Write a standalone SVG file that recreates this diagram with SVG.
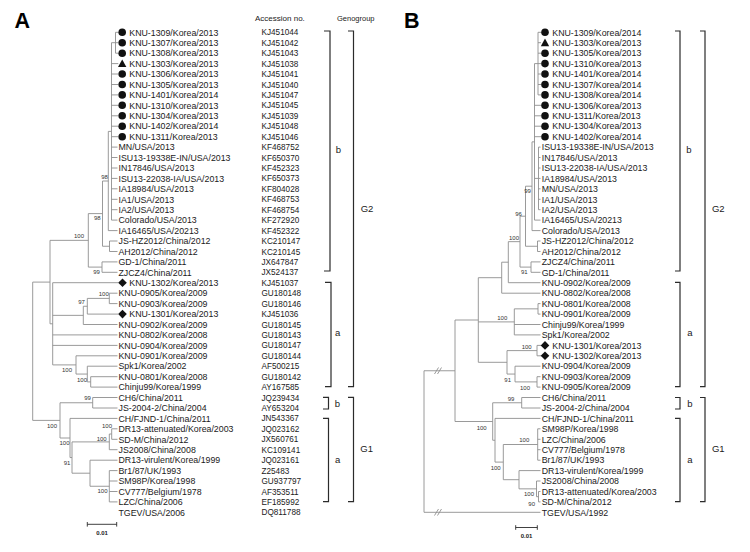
<svg xmlns="http://www.w3.org/2000/svg" xmlns:xlink="http://www.w3.org/1999/xlink" width="750" height="552" viewBox="0 0 750 552">
<defs>
<style>
text{font-family:"Liberation Sans",Arial,sans-serif;fill:#1a1a1a}
.s{font-size:8.8px}
.ac{font-size:8.2px}
.hd{font-size:8px}
.bs{font-size:6px;text-anchor:middle;fill:#333}
.gl{font-size:9.5px;text-anchor:middle}
.pl{font-size:21.5px;font-weight:bold;fill:#000}
.sc{font-size:6px;font-weight:bold;text-anchor:middle}
.br{fill:none;stroke:#8f8f8f;stroke-width:0.9}
.bk{fill:none;stroke:#2b2b2b;stroke-width:1.2}
.mk{fill:#111}
</style>
<circle id="dot" cx="0" cy="0" r="3.8" class="mk"/>
<path id="tri" d="M0,-4.2L4.2,3.5L-4.2,3.5Z" class="mk"/>
<path id="dia" d="M0,-4.3L4.3,0L0,4.3L-4.3,0Z" class="mk"/>
</defs>
<rect width="750" height="552" fill="#fff"/>

<text class="pl" x="14.5" y="28.3">A</text>
<text class="pl" x="404" y="28.3">B</text>
<text class="hd" x="255" y="20.5">Accession no.</text>
<text class="hd" x="337" y="20.5" style="font-size:7.5px">Genogroup</text>

<g id="connectors-A">
<path class="br" d="M115.5,32.3V53.2M115.5,32.3H118.3M115.5,42.7H118.3M115.5,53.2H118.3"/>
<path class="br" d="M111.5,42.7V220.1M111.5,42.7H115.5M111.5,63.6H118.3M111.5,74H118.3M111.5,84.5H118.3M111.5,94.9H118.3M111.5,105.3H118.3M111.5,115.8H118.3M111.5,126.2H118.3M111.5,136.7H118.3M111.5,147.1H117.5M111.5,157.5H117.5M111.5,168H117.5M111.5,178.4H117.5M111.5,188.8H117.5M111.5,199.3H117.5M111.5,209.7H117.5M111.5,220.1H117.5"/>
<path class="br" d="M108.3,131.4V230.6M108.3,131.4H111.5M108.3,230.6H117.5"/>
<path class="br" d="M109.5,241V251.5M109.5,241H117.5M109.5,251.5H117.5"/>
<path class="br" d="M102.5,181V246.25M102.5,181H108.3M102.5,246.25H109.5"/>
<path class="br" d="M102,261.9V272.3M102,261.9H117.5M102,272.3H117.5"/>
<path class="br" d="M88.3,213.6V267.1M88.3,213.6H102.5M88.3,267.1H102"/>
<path class="br" d="M50,240.35V323.8M50,240.35H88.3M50,323.8H52.7"/>
<path class="br" d="M52.7,282.7V364.9M52.7,282.7H118.3M52.7,315.35H83.3M52.7,334.9H117.5M52.7,345.4H117.5M52.7,364.9H76"/>
<path class="br" d="M83.3,306.25V324.5M83.3,306.25H87.3M83.3,324.5H117.5"/>
<path class="br" d="M87.3,298.4V314.1M87.3,298.4H109.3M87.3,314.1H118.3"/>
<path class="br" d="M109.3,293.2V303.6M109.3,293.2H117.5M109.3,303.6H117.5"/>
<path class="br" d="M76,355.8V374.05M76,355.8H117.5M76,374.05H87.3"/>
<path class="br" d="M87.3,366.2V381.9M87.3,366.2H117.5M87.3,381.9H90.7"/>
<path class="br" d="M90.7,376.7V387.1M90.7,376.7H117.5M90.7,387.1H117.5"/>
<path class="br" d="M32.7,282.1V420.4M32.7,282.1H50M32.7,420.4H60"/>
<path class="br" d="M60,402.75V438M60,402.75H92.7M60,438H70"/>
<path class="br" d="M92.7,397.5V408M92.7,397.5H117.5M92.7,408H117.5"/>
<path class="br" d="M70,418.4V457.55M70,418.4H117.5M70,457.55H72"/>
<path class="br" d="M72,441.9V473.2M72,441.9H109.3M72,473.2H90"/>
<path class="br" d="M109.3,434V449.7M109.3,434H111.7M109.3,449.7H117.5"/>
<path class="br" d="M111.7,428.8V439.3M111.7,428.8H117.5M111.7,439.3H117.5"/>
<path class="br" d="M90,460.2V486.25M90,460.2H117.5M90,486.25H109.3"/>
<path class="br" d="M109.3,470.6V501.9M109.3,470.6H117.5M109.3,481H117.5M109.3,491.5H117.5M109.3,501.9H117.5"/>
<path class="bk" style="stroke-width:0.9" d="M87.3,524.3H116.7M87.3,522V526.6M116.7,522V526.6"/>
</g>

<g id="bootstrap-A">
<text class="bs" x="104.5" y="178.7">98</text>
<text class="bs" x="97.3" y="219.7">98</text>
<text class="bs" x="79" y="238.2">100</text>
<text class="bs" x="96.5" y="273.8">99</text>
<text class="bs" x="103.8" y="296.1">100</text>
<text class="bs" x="81.5" y="303.9">97</text>
<text class="bs" x="67" y="371.6">100</text>
<text class="bs" x="82" y="381.5">100</text>
<text class="bs" x="87.5" y="400.2">99</text>
<text class="bs" x="52" y="427.7">100</text>
<text class="bs" x="107" y="427.9">100</text>
<text class="bs" x="101.7" y="440.5">100</text>
<text class="bs" x="64.5" y="445.2">100</text>
<text class="bs" x="67" y="464.5">91</text>
<text class="bs" x="102.5" y="493.2">100</text>
<text class="sc" x="102" y="535">0.01</text>
</g>

<g id="leaves-A">
<g id="a1"><use href="#dot" x="122.2" y="32.3"/><text class="s" x="129.3" y="35.5">KNU-1309/Korea/2013</text><text class="ac" x="261.5" y="35.3">KJ451044</text></g>
<g id="a2"><use href="#dot" x="122.2" y="42.7"/><text class="s" x="129.3" y="45.9">KNU-1307/Korea/2013</text><text class="ac" x="261.5" y="45.7">KJ451042</text></g>
<g id="a3"><use href="#dot" x="122.2" y="53.2"/><text class="s" x="129.3" y="56.4">KNU-1308/Korea/2013</text><text class="ac" x="261.5" y="56.2">KJ451043</text></g>
<g id="a4"><use href="#tri" x="122.2" y="63.6"/><text class="s" x="129.3" y="66.8">KNU-1303/Korea/2013</text><text class="ac" x="261.5" y="66.6">KJ451038</text></g>
<g id="a5"><use href="#dot" x="122.2" y="74"/><text class="s" x="129.3" y="77.2">KNU-1306/Korea/2013</text><text class="ac" x="261.5" y="77">KJ451041</text></g>
<g id="a6"><use href="#dot" x="122.2" y="84.5"/><text class="s" x="129.3" y="87.7">KNU-1305/Korea/2013</text><text class="ac" x="261.5" y="87.5">KJ451040</text></g>
<g id="a7"><use href="#dot" x="122.2" y="94.9"/><text class="s" x="129.3" y="98.1">KNU-1401/Korea/2014</text><text class="ac" x="261.5" y="97.9">KJ451047</text></g>
<g id="a8"><use href="#dot" x="122.2" y="105.3"/><text class="s" x="129.3" y="108.5">KNU-1310/Korea/2013</text><text class="ac" x="261.5" y="108.3">KJ451045</text></g>
<g id="a9"><use href="#dot" x="122.2" y="115.8"/><text class="s" x="129.3" y="119">KNU-1304/Korea/2013</text><text class="ac" x="261.5" y="118.8">KJ451039</text></g>
<g id="a10"><use href="#dot" x="122.2" y="126.2"/><text class="s" x="129.3" y="129.4">KNU-1402/Korea/2014</text><text class="ac" x="261.5" y="129.2">KJ451048</text></g>
<g id="a11"><use href="#dot" x="122.2" y="136.7"/><text class="s" x="129.3" y="139.9">KNU-1311/Korea/2013</text><text class="ac" x="261.5" y="139.7">KJ451046</text></g>
<g id="a12"><text class="s" x="118.5" y="150.3">MN/USA/2013</text><text class="ac" x="261.5" y="150.1">KF468752</text></g>
<g id="a13"><text class="s" x="118.5" y="160.7">ISU13-19338E-IN/USA/2013</text><text class="ac" x="261.5" y="160.5">KF650370</text></g>
<g id="a14"><text class="s" x="118.5" y="171.2">IN17846/USA/2013</text><text class="ac" x="261.5" y="171">KF452323</text></g>
<g id="a15"><text class="s" x="118.5" y="181.6">ISU13-22038-IA/USA/2013</text><text class="ac" x="261.5" y="181.4">KF650373</text></g>
<g id="a16"><text class="s" x="118.5" y="192">IA18984/USA/2013</text><text class="ac" x="261.5" y="191.8">KF804028</text></g>
<g id="a17"><text class="s" x="118.5" y="202.5">IA1/USA/2013</text><text class="ac" x="261.5" y="202.3">KF468753</text></g>
<g id="a18"><text class="s" x="118.5" y="212.9">IA2/USA/2013</text><text class="ac" x="261.5" y="212.7">KF468754</text></g>
<g id="a19"><text class="s" x="118.5" y="223.3">Colorado/USA/2013</text><text class="ac" x="261.5" y="223.1">KF272920</text></g>
<g id="a20"><text class="s" x="118.5" y="233.8">IA16465/USA/20213</text><text class="ac" x="261.5" y="233.6">KF452322</text></g>
<g id="a21"><text class="s" x="118.5" y="244.2">JS-HZ2012/China/2012</text><text class="ac" x="261.5" y="244">KC210147</text></g>
<g id="a22"><text class="s" x="118.5" y="254.7">AH2012/China/2012</text><text class="ac" x="261.5" y="254.5">KC210145</text></g>
<g id="a23"><text class="s" x="118.5" y="265.1">GD-1/China/2011</text><text class="ac" x="261.5" y="264.9">JX647847</text></g>
<g id="a24"><text class="s" x="118.5" y="275.5">ZJCZ4/China/2011</text><text class="ac" x="261.5" y="275.3">JX524137</text></g>
<g id="a25"><use href="#dia" x="122.5" y="282.7"/><text class="s" x="129.3" y="285.9">KNU-1302/Korea/2013</text><text class="ac" x="261.5" y="285.7">KJ451037</text></g>
<g id="a26"><text class="s" x="118.5" y="296.4">KNU-0905/Korea/2009</text><text class="ac" x="261.5" y="296.2">GU180148</text></g>
<g id="a27"><text class="s" x="118.5" y="306.8">KNU-0903/Korea/2009</text><text class="ac" x="261.5" y="306.6">GU180146</text></g>
<g id="a28"><use href="#dia" x="122.5" y="314.1"/><text class="s" x="129.3" y="317.3">KNU-1301/Korea/2013</text><text class="ac" x="261.5" y="317.1">KJ451036</text></g>
<g id="a29"><text class="s" x="118.5" y="327.7">KNU-0902/Korea/2009</text><text class="ac" x="261.5" y="327.5">GU180145</text></g>
<g id="a30"><text class="s" x="118.5" y="338.1">KNU-0802/Korea/2008</text><text class="ac" x="261.5" y="337.9">GU180143</text></g>
<g id="a31"><text class="s" x="118.5" y="348.6">KNU-0904/Korea/2009</text><text class="ac" x="261.5" y="348.4">GU180147</text></g>
<g id="a32"><text class="s" x="118.5" y="359">KNU-0901/Korea/2009</text><text class="ac" x="261.5" y="358.8">GU180144</text></g>
<g id="a33"><text class="s" x="118.5" y="369.4">Spk1/Korea/2002</text><text class="ac" x="261.5" y="369.2">AF500215</text></g>
<g id="a34"><text class="s" x="118.5" y="379.9">KNU-0801/Korea/2008</text><text class="ac" x="261.5" y="379.7">GU180142</text></g>
<g id="a35"><text class="s" x="118.5" y="390.3">Chinju99/Korea/1999</text><text class="ac" x="261.5" y="390.1">AY167585</text></g>
<g id="a36"><text class="s" x="118.5" y="400.7">CH6/China/2011</text><text class="ac" x="261.5" y="400.5">JQ239434</text></g>
<g id="a37"><text class="s" x="118.5" y="411.2">JS-2004-2/China/2004</text><text class="ac" x="261.5" y="411">AY653204</text></g>
<g id="a38"><text class="s" x="118.5" y="421.6">CH/FJND-1/China/2011</text><text class="ac" x="261.5" y="421.4">JN543367</text></g>
<g id="a39"><text class="s" x="118.5" y="432">DR13-attenuated/Korea/2003</text><text class="ac" x="261.5" y="431.8">JQ023162</text></g>
<g id="a40"><text class="s" x="118.5" y="442.5">SD-M/China/2012</text><text class="ac" x="261.5" y="442.3">JX560761</text></g>
<g id="a41"><text class="s" x="118.5" y="452.9">JS2008/China/2008</text><text class="ac" x="261.5" y="452.7">KC109141</text></g>
<g id="a42"><text class="s" x="118.5" y="463.4">DR13-virulent/Korea/1999</text><text class="ac" x="261.5" y="463.2">JQ023161</text></g>
<g id="a43"><text class="s" x="118.5" y="473.8">Br1/87/UK/1993</text><text class="ac" x="261.5" y="473.6">Z25483</text></g>
<g id="a44"><text class="s" x="118.5" y="484.2">SM98P/Korea/1998</text><text class="ac" x="261.5" y="484">GU937797</text></g>
<g id="a45"><text class="s" x="118.5" y="494.7">CV777/Belgium/1978</text><text class="ac" x="261.5" y="494.5">AF353511</text></g>
<g id="a46"><text class="s" x="118.5" y="505.1">LZC/China/2006</text><text class="ac" x="261.5" y="504.9">EF185992</text></g>
<g id="a47"><text class="s" x="118.5" y="515.5">TGEV/USA/2006</text><text class="ac" x="261.5" y="515.3">DQ811788</text></g>
</g>

<g id="groups-A">
<path class="bk" d="M324,31H330V271H324"/>
<path class="bk" d="M325,282.3H331V386.7H325"/>
<path class="bk" d="M348,31H353.5V386.7H348"/>
<path class="bk" d="M323,397.3H328.5V409H323"/>
<path class="bk" d="M323,418.3H328.5V501.7H323"/>
<path class="bk" d="M348,397.3H353.5V501.7H348"/>
<text class="gl" x="338.3" y="153.4">b</text>
<text class="gl" x="367" y="212.4">G2</text>
<text class="gl" x="337.7" y="335.8">a</text>
<text class="gl" x="337.3" y="406.7">b</text>
<text class="gl" x="366.7" y="451.7">G1</text>
<text class="gl" x="337.7" y="462.5">a</text>
</g>

<g id="connectors-B">
<path class="br" d="M538,32.3V94.9M538,32.3H541M538,42.7H541M538,53.2H541M538,63.6H541M538,74H541M538,84.5H541M538,94.9H541"/>
<path class="br" d="M534.5,63.6V220.1M534.5,63.6H538M534.5,105.3H541M534.5,115.8H541M534.5,126.2H541M534.5,136.7H541M534.5,178.4H538.5M534.5,220.1H540.5"/>
<path class="br" d="M538.5,147.1V209.7M538.5,147.1H540.5M538.5,157.5H540.5M538.5,168H540.5M538.5,178.4H540.5M538.5,188.8H540.5M538.5,199.3H540.5M538.5,209.7H540.5"/>
<path class="br" d="M532,141.85V230.6M532,141.85H534.5M532,230.6H540.5"/>
<path class="br" d="M537.5,241V251.5M537.5,241H540.5M537.5,251.5H540.5"/>
<path class="br" d="M525.5,186.2V246.25M525.5,186.2H532M525.5,246.25H537.5"/>
<path class="br" d="M531,261.9V272.3M531,261.9H540.5M531,272.3H540.5"/>
<path class="br" d="M520,216.2V267.1M520,216.2H525.5M520,267.1H531"/>
<path class="br" d="M508.3,241.65V282.7M508.3,241.65H520M508.3,282.7H540.5"/>
<path class="br" d="M501.7,262.2V293.2M501.7,262.2H508.3M501.7,293.2H540.5"/>
<path class="br" d="M538,303.6V314.1M538,303.6H540.5M538,314.1H540.5"/>
<path class="br" d="M514.3,308.85V334.9M514.3,308.85H538M514.3,324.5H540.5M514.3,334.9H540.5"/>
<path class="br" d="M537,345.4V355.8M537,345.4H541M537,355.8H541"/>
<path class="br" d="M537,376.7V387.1M537,376.7H540.5M537,387.1H540.5"/>
<path class="br" d="M515,366.2V381.9M515,366.2H540.5M515,381.9H537"/>
<path class="br" d="M507,350.6V374.05M507,350.6H537M507,374.05H515"/>
<path class="br" d="M478.3,277.7V362.3M478.3,277.7H501.7M478.3,321.9H514.3M478.3,362.3H507"/>
<path class="br" d="M521.7,397.5V408M521.7,397.5H540.5M521.7,408H540.5"/>
<path class="br" d="M537.7,428.8V460.2M537.7,428.8H540.5M537.7,439.3H540.5M537.7,449.7H540.5M537.7,460.2H540.5"/>
<path class="br" d="M538.5,491.5V501.9M538.5,491.5H540.5M538.5,501.9H540.5"/>
<path class="br" d="M536.5,481V496.7M536.5,481H540.5M536.5,496.7H538.5"/>
<path class="br" d="M519,470.6V488.85M519,470.6H540.5M519,488.85H536.5"/>
<path class="br" d="M503.3,444.5V479.7M503.3,444.5H537.7M503.3,479.7H519"/>
<path class="br" d="M495,418.4V462.1M495,418.4H540.5M495,462.1H503.3"/>
<path class="br" d="M492.7,402.75V440.25M492.7,402.75H521.7M492.7,440.25H495"/>
<path class="br" d="M455,320V421.5M455,320H478.3M455,421.5H492.7"/>
<path class="br" d="M424,370.75V512.3M424,370.75H455M424,512.3H540.5"/>
<path class="br" d="M434.5,374L438.5,367.5M437.5,374L441.5,367.5M434.5,515.5L438.5,509M437.5,515.5L441.5,509"/>
<path class="bk" style="stroke-width:0.9" d="M515.7,527.5H537.3M515.7,525.2V529.8M537.3,525.2V529.8"/>
</g>

<g id="bootstrap-B">
<text class="bs" x="527.5" y="193">99</text>
<text class="bs" x="518.5" y="215.5">96</text>
<text class="bs" x="514" y="239.5">100</text>
<text class="bs" x="524.3" y="273.9">91</text>
<text class="bs" x="502.3" y="320">100</text>
<text class="bs" x="526.7" y="349">100</text>
<text class="bs" x="507.7" y="381.5">91</text>
<text class="bs" x="525" y="389.5">100</text>
<text class="bs" x="511" y="400.5">99</text>
<text class="bs" x="481.7" y="429.9">100</text>
<text class="bs" x="524.3" y="442">100</text>
<text class="bs" x="495.7" y="469.9">100</text>
<text class="bs" x="529" y="495.5">100</text>
<text class="bs" x="531.7" y="505.5">90</text>
<text class="sc" x="526.5" y="537.5">0.01</text>
</g>

<g id="leaves-B">
<g id="b1"><use href="#dot" x="545" y="32.3"/><text class="s" x="552.3" y="35.5">KNU-1309/Korea/2014</text></g>
<g id="b2"><use href="#tri" x="545" y="42.7"/><text class="s" x="552.3" y="45.9">KNU-1303/Korea/2013</text></g>
<g id="b3"><use href="#dot" x="545" y="53.2"/><text class="s" x="552.3" y="56.4">KNU-1305/Korea/2013</text></g>
<g id="b4"><use href="#dot" x="545" y="63.6"/><text class="s" x="552.3" y="66.8">KNU-1310/Korea/2013</text></g>
<g id="b5"><use href="#dot" x="545" y="74"/><text class="s" x="552.3" y="77.2">KNU-1401/Korea/2014</text></g>
<g id="b6"><use href="#dot" x="545" y="84.5"/><text class="s" x="552.3" y="87.7">KNU-1307/Korea/2014</text></g>
<g id="b7"><use href="#dot" x="545" y="94.9"/><text class="s" x="552.3" y="98.1">KNU-1308/Korea/2014</text></g>
<g id="b8"><use href="#dot" x="545" y="105.3"/><text class="s" x="552.3" y="108.5">KNU-1306/Korea/2013</text></g>
<g id="b9"><use href="#dot" x="545" y="115.8"/><text class="s" x="552.3" y="119">KNU-1311/Korea/2013</text></g>
<g id="b10"><use href="#dot" x="545" y="126.2"/><text class="s" x="552.3" y="129.4">KNU-1304/Korea/2013</text></g>
<g id="b11"><use href="#dot" x="545" y="136.7"/><text class="s" x="552.3" y="139.9">KNU-1402/Korea/2014</text></g>
<g id="b12"><text class="s" x="541.7" y="150.3">ISU13-19338E-IN/USA/2013</text></g>
<g id="b13"><text class="s" x="541.7" y="160.7">IN17846/USA/2013</text></g>
<g id="b14"><text class="s" x="541.7" y="171.2">ISU13-22038-IA/USA/2013</text></g>
<g id="b15"><text class="s" x="541.7" y="181.6">IA18984/USA/2013</text></g>
<g id="b16"><text class="s" x="541.7" y="192">MN/USA/2013</text></g>
<g id="b17"><text class="s" x="541.7" y="202.5">IA1/USA/2013</text></g>
<g id="b18"><text class="s" x="541.7" y="212.9">IA2/USA/2013</text></g>
<g id="b19"><text class="s" x="541.7" y="223.3">IA16465/USA/20213</text></g>
<g id="b20"><text class="s" x="541.7" y="233.8">Colorado/USA/2013</text></g>
<g id="b21"><text class="s" x="541.7" y="244.2">JS-HZ2012/China/2012</text></g>
<g id="b22"><text class="s" x="541.7" y="254.7">AH2012/China/2012</text></g>
<g id="b23"><text class="s" x="541.7" y="265.1">ZJCZ4/China/2011</text></g>
<g id="b24"><text class="s" x="541.7" y="275.5">GD-1/China/2011</text></g>
<g id="b25"><text class="s" x="541.7" y="285.9">KNU-0902/Korea/2009</text></g>
<g id="b26"><text class="s" x="541.7" y="296.4">KNU-0802/Korea/2008</text></g>
<g id="b27"><text class="s" x="541.7" y="306.8">KNU-0801/Korea/2008</text></g>
<g id="b28"><text class="s" x="541.7" y="317.3">KNU-0901/Korea/2009</text></g>
<g id="b29"><text class="s" x="541.7" y="327.7">Chinju99/Korea/1999</text></g>
<g id="b30"><text class="s" x="541.7" y="338.1">Spk1/Korea/2002</text></g>
<g id="b31"><use href="#dia" x="545" y="345.4"/><text class="s" x="552.3" y="348.6">KNU-1301/Korea/2013</text></g>
<g id="b32"><use href="#dia" x="545" y="355.8"/><text class="s" x="552.3" y="359">KNU-1302/Korea/2013</text></g>
<g id="b33"><text class="s" x="541.7" y="369.4">KNU-0904/Korea/2009</text></g>
<g id="b34"><text class="s" x="541.7" y="379.9">KNU-0903/Korea/2009</text></g>
<g id="b35"><text class="s" x="541.7" y="390.3">KNU-0905/Korea/2009</text></g>
<g id="b36"><text class="s" x="541.7" y="400.7">CH6/China/2011</text></g>
<g id="b37"><text class="s" x="541.7" y="411.2">JS-2004-2/China/2004</text></g>
<g id="b38"><text class="s" x="541.7" y="421.6">CH/FJND-1/China/2011</text></g>
<g id="b39"><text class="s" x="541.7" y="432">SM98P/Korea/1998</text></g>
<g id="b40"><text class="s" x="541.7" y="442.5">LZC/China/2006</text></g>
<g id="b41"><text class="s" x="541.7" y="452.9">CV777/Belgium/1978</text></g>
<g id="b42"><text class="s" x="541.7" y="463.4">Br1/87/UK/1993</text></g>
<g id="b43"><text class="s" x="541.7" y="473.8">DR13-virulent/Korea/1999</text></g>
<g id="b44"><text class="s" x="541.7" y="484.2">JS2008/China/2008</text></g>
<g id="b45"><text class="s" x="541.7" y="494.7">DR13-attenuated/Korea/2003</text></g>
<g id="b46"><text class="s" x="541.7" y="505.1">SD-M/China/2012</text></g>
<g id="b47"><text class="s" x="541.7" y="515.5">TGEV/USA/1992</text></g>
</g>

<g id="groups-B">
<path class="bk" d="M675,31H680V271H675"/>
<path class="bk" d="M675,282.3H680V386.7H675"/>
<path class="bk" d="M700,31H705V386.7H700"/>
<path class="bk" d="M675,397.5H680V409H675"/>
<path class="bk" d="M675,418.3H680V501.7H675"/>
<path class="bk" d="M700,397.5H705V501.7H700"/>
<text class="gl" x="689" y="153.4">b</text>
<text class="gl" x="718.3" y="212.4">G2</text>
<text class="gl" x="690" y="335.8">a</text>
<text class="gl" x="690" y="406.7">b</text>
<text class="gl" x="718.3" y="451.7">G1</text>
<text class="gl" x="690" y="462.5">a</text>
</g>
</svg>
